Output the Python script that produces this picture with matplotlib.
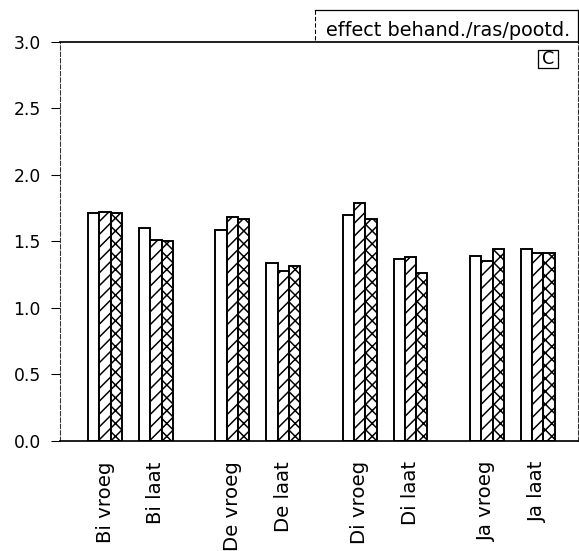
import matplotlib
matplotlib.use("Agg")
import matplotlib.pyplot as plt
from matplotlib.lines import Line2D
from matplotlib.patches import Rectangle
import numpy as np

categories = ["Bi vroeg", "Bi laat", "De vroeg", "De laat",
              "Di vroeg", "Di laat", "Ja vroeg", "Ja laat"]
positions = [0, 1, 2.5, 3.5, 5, 6, 7.5, 8.5]
series_plain = [1.71, 1.60, 1.585, 1.335, 1.695, 1.365, 1.39, 1.44]
series_slash = [1.72, 1.51, 1.68, 1.28, 1.79, 1.38, 1.35, 1.41]
series_cross = [1.71, 1.50, 1.665, 1.315, 1.67, 1.26, 1.44, 1.41]
yticks = [0.0, 0.5, 1.0, 1.5, 2.0, 2.5, 3.0]
title_text = "effect behand./ras/pootd."
panel_letter = "C"

W, H, DPI = 579, 551, 77
plt.rcParams['font.family'] = ['DejaVu Sans']
plt.rcParams['hatch.linewidth'] = 1.4
plt.rcParams['hatch.color'] = 'black'

fig = plt.figure(figsize=(W / DPI, H / DPI), dpi=DPI)
ax = fig.add_axes([60 / W, (H - 441) / H, (578 - 60) / W, (441 - 41.7) / H])

x = np.array(positions)
w = 0.222
kw = dict(width=w, edgecolor='black', facecolor='white', linewidth=1.8)
ax.bar(x - w, series_plain, **kw)
ax.bar(x, series_slash, hatch='//', **kw)
ax.bar(x + w, series_cross, hatch='xx', **kw)

ax.set_xlim(-0.884, 9.29)
ax.set_ylim(0, 3.0)
ax.set_yticks(yticks)
ax.set_yticklabels([f"{v:.1f}" for v in yticks], fontsize=16)
ax.set_xticks(positions)
ax.set_xticklabels(categories, rotation=90, fontsize=18.5, va='top', ha='center')
ax.tick_params(axis='x', length=0, pad=19)
ax.tick_params(axis='y', direction='out', length=8, width=1, pad=10)

ax.spines['top'].set_linewidth(1.6)
ax.spines['bottom'].set_linewidth(1.6)
for s in ('left', 'right'):
    ax.spines[s].set_linestyle((0, (4, 2)))
    ax.spines[s].set_linewidth(1.0)
    ax.spines[s].set_color('#333333')

# title box above the axes (figure pixel coordinates converted to fractions)
def fx(px):
    return px / W

def fy(py):
    return (H - py) / H

fig.add_artist(Line2D([fx(315), fx(578)], [fy(10), fy(10)], color='black', lw=1.2))
fig.add_artist(Line2D([fx(315), fx(315)], [fy(10), fy(41.7)], color='black', lw=1.0,
                      linestyle=(0, (4, 2))))
fig.add_artist(Line2D([fx(578), fx(578)], [fy(10), fy(41.7)], color='black', lw=1.2))
fig.text(fx(326), fy(35.5), title_text, fontsize=18, ha='left', va='baseline')

# panel letter box
fig.add_artist(Rectangle((fx(538), fy(68)), fx(558) - fx(538), fy(50) - fy(68),
                         transform=fig.transFigure, fill=False, edgecolor='black', lw=1.2))
fig.text(fx(548), fy(59.5), panel_letter, fontsize=16.5, ha='center', va='center')

fig.savefig("out.png", dpi=DPI)
